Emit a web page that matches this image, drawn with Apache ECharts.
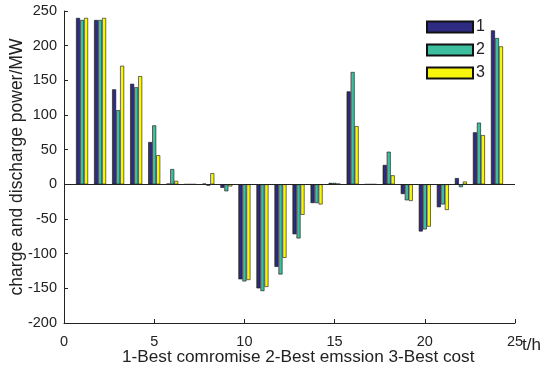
<!DOCTYPE html>
<html><head><meta charset="utf-8">
<script src="https://cdn.jsdelivr.net/npm/echarts@6/dist/echarts.min.js"></script>
<style>html,body{margin:0;padding:0;background:#fff}#c{width:550px;height:372px}</style>
</head><body><div id="c"></div>
<script>
var hours = [1,2,3,4,5,6,7,8,9,10,11,12,13,14,15,16,17,18,19,20,21,22,23,24];
var seriesNames = ['1','2','3'];
var best1 = [240,237,137,145,61,1,0,1,-5,-137,-150,-119,-72,-27,2,134,0,28,-14,-68,-33,9,75,222];
var best2 = [237,237,107,140,85,22,0,-2,-10,-140,-154,-130,-78,-27,2,162,0,47,-23,-65,-29,-4,89,211];
var best3 = [240,240,171,156,42,5,0,16,-3,-138,-148,-106,-44,-29,1,84,0,13,-24,-61,-37,4,71,199];
var colors = ['#2e2b82','#3dbf9f','#f7f50c'];
var xTitle = 't/h';
var yTitle = 'charge and discharge power/MW';
var caption = '1-Best comromise 2-Best emssion 3-Best cost';

var font = 'Liberation Sans, Arial, Helvetica, sans-serif';
function mk(name, vals, i){
  var s = {
    name: name, type: 'bar', barWidth: 4, barGap: '0%',
    data: hours.map(function(h,k){ return [h, vals[k]]; }),
    itemStyle: {color: colors[i], borderColor: '#111', borderWidth: 0.6}
  };
  if (i === 0) {
    s.markLine = {
      silent: true, symbol: 'none', label: {show: false},
      lineStyle: {color: '#222', width: 1, type: 'solid'},
      data: [{yAxis: 0}]
    };
  }
  return s;
}
var chart = echarts.init(document.getElementById('c'), null, {renderer:'canvas'});
chart.setOption({
  animation: false,
  textStyle: {fontFamily: font},
  grid: {left: 64, right: 35, top: 11, bottom: 49, containLabel: false, outerBoundsMode: 'none'},
  legend: {
    orient: 'vertical', left: 421, top: 14, itemWidth: 46, itemHeight: 11, itemGap: 7,
    icon: 'rect', data: seriesNames,
    textStyle: {fontSize: 16, color: '#222', fontFamily: font, padding: [0,0,0,-2]}
  },
  xAxis: {
    type: 'value', min: 0, max: 25, interval: 5,
    axisLine: {onZero: false, lineStyle: {color: '#222', width: 1}},
    axisTick: {inside: true, length: 4, lineStyle: {color: '#222'}},
    axisLabel: {fontSize: 14.5, color: '#222', margin: 11},
    splitLine: {show: false}
  },
  yAxis: {
    type: 'value', min: -200, max: 250, interval: 50,
    name: yTitle, nameLocation: 'middle', nameGap: 38, nameMoveOverlap: false,
    nameTextStyle: {fontSize: 17.5, color: '#222'},
    axisLine: {show: true, lineStyle: {color: '#222', width: 1}},
    axisTick: {show: true, inside: true, length: 4, lineStyle: {color: '#222'}},
    axisLabel: {fontSize: 14.5, color: '#222', margin: 7},
    splitLine: {show: false}
  },
  graphic: [{
    type: 'text', left: 122, top: 349,
    style: {text: caption, fontSize: 17.2, fill: '#222', fontFamily: font}
  }, {
    type: 'text', left: 522, top: 337,
    style: {text: xTitle, fontSize: 17, fill: '#222', fontFamily: font}
  }],
  series: [mk(seriesNames[0], best1, 0), mk(seriesNames[1], best2, 1), mk(seriesNames[2], best3, 2)]
});
</script></body></html>
